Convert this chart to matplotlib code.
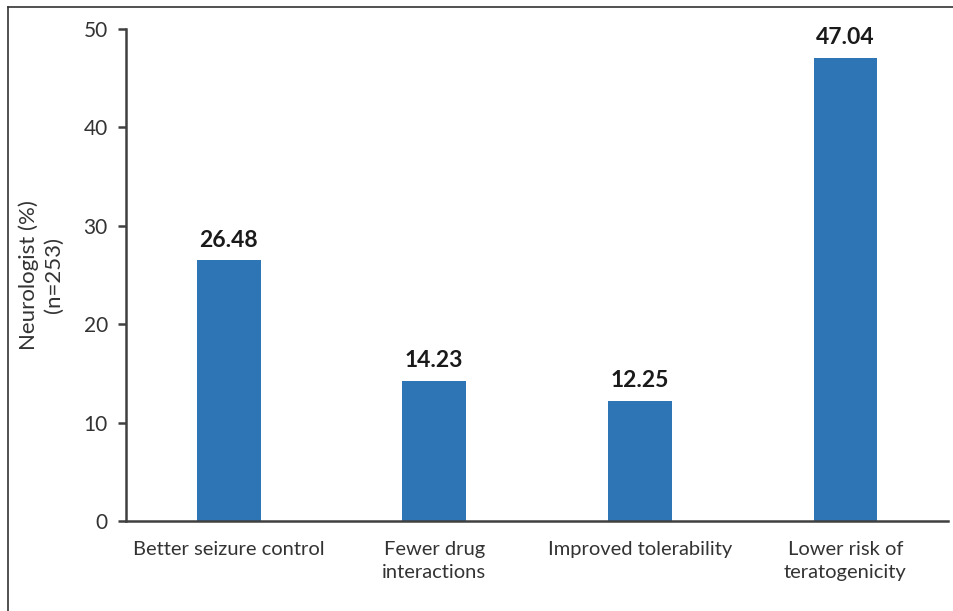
import matplotlib
matplotlib.use("Agg")
import matplotlib.pyplot as plt
from matplotlib.lines import Line2D

categories = ["Better seizure control", "Fewer drug\ninteractions",
              "Improved tolerability", "Lower risk of\nteratogenicity"]
values = [26.48, 14.23, 12.25, 47.04]
yticks = [0, 10, 20, 30, 40, 50]

plt.rcParams["font.family"] = ["Lato", "DejaVu Sans"]

fig = plt.figure(figsize=(9.54, 6.11), dpi=100)
ax = fig.add_axes([0.132, 0.147, 0.862, 0.806])

x = range(len(categories))
ax.bar(x, values, width=0.31, color="#2E75B6")
for xi, v in zip(x, values):
    ax.text(xi, v + 1.0, f"{v:.2f}", ha="center", va="bottom",
            fontsize=16.5, fontweight="bold", color="#1a1a1a")

ax.set_xlim(-0.5, len(categories) - 0.5)
ax.set_ylim(0, 50)
ax.set_yticks(yticks)
ax.set_xticks(list(x))
ax.set_xticklabels(categories, fontsize=14.5, color="#333333", linespacing=1.45)
ax.tick_params(axis="y", labelsize=15, labelcolor="#333333", length=6,
               width=1.8, color="#404040", pad=7)
ax.tick_params(axis="x", length=0, pad=14)

for side in ("top", "right"):
    ax.spines[side].set_visible(False)
for side in ("left", "bottom"):
    ax.spines[side].set_linewidth(1.8)
    ax.spines[side].set_color("#404040")

ax.set_ylabel("Neurologist (%)\n(n=253)", fontsize=16, color="#333333",
              labelpad=14, linespacing=1.35)

# thin frame around the figure (top and left edges)
fig.add_artist(Line2D([8 / 954, 1.0], [1 - 7 / 611, 1 - 7 / 611],
                      transform=fig.transFigure, color="#333333", lw=1.2))
fig.add_artist(Line2D([8 / 954, 8 / 954], [0.0, 1 - 7 / 611],
                      transform=fig.transFigure, color="#333333", lw=1.2))

fig.savefig("out.png", dpi=100)
